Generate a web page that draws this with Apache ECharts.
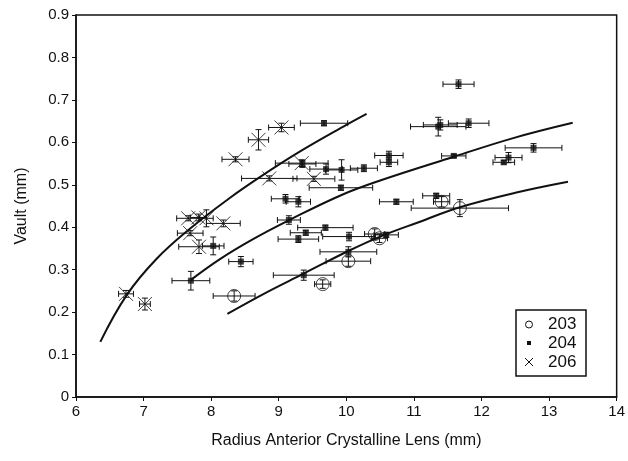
<!DOCTYPE html>
<html>
<head>
<meta charset="utf-8">
<script src="https://cdn.jsdelivr.net/npm/echarts@6/dist/echarts.min.js"></script>
<style>
  html, body { margin: 0; padding: 0; background: #fff; }
  #chart { width: 628px; height: 461px; }
</style>
</head>
<body>
<div id="chart"></div>
<script>
// group 203 (open circles)
const s203X = [8.34, 9.65, 10.03, 10.42, 10.49, 11.41, 11.68];
const s203Y = [0.238, 0.266, 0.320, 0.384, 0.374, 0.460, 0.445];
const s203Xerr = [0.31, 0.12, 0.33, 0.15, 0.12, 0.12, 0.72];
const s203Yerr = [0.012, 0.010, 0.012, 0.012, 0.010, 0.012, 0.020];

// group 204 (small filled squares)
const s204X = [7.70, 8.03, 8.44, 9.10, 9.29, 9.15, 9.40, 9.29, 9.69, 9.37, 9.92, 10.04, 10.03,
  9.67, 9.70, 9.93, 10.26, 11.66, 11.36, 11.39, 11.81, 10.63, 10.63, 11.59, 12.77, 12.40,
  12.33, 11.33, 10.74, 10.59, 9.35];
const s204Y = [0.274, 0.356, 0.319, 0.467, 0.460, 0.417, 0.387, 0.372, 0.399, 0.287, 0.493, 0.378, 0.342,
  0.645, 0.537, 0.535, 0.539, 0.737, 0.637, 0.641, 0.645, 0.569, 0.553, 0.568, 0.587, 0.564,
  0.553, 0.474, 0.460, 0.382, 0.549];
const s204Xerr = [0.28, 0.16, 0.18, 0.21, 0.18, 0.17, 0.23, 0.30, 0.41, 0.45, 0.47, 0.39, 0.42,
  0.35, 0.24, 0.24, 0.20, 0.23, 0.41, 0.25, 0.30, 0.21, 0.13, 0.18, 0.42, 0.20,
  0.16, 0.20, 0.25, 0.18, 0.20];
const s204Yerr = [0.022, 0.021, 0.012, 0.010, 0.012, 0.010, 0.006, 0.008, 0.006, 0.012, 0.006, 0.010, 0.012,
  0.006, 0.012, 0.024, 0.008, 0.010, 0.022, 0.012, 0.010, 0.010, 0.010, 0.004, 0.010, 0.012,
  0.004, 0.006, 0.006, 0.006, 0.008];

// group 206 (crosses)
const s206X = [6.74, 7.02, 7.66, 7.81, 7.93, 8.18, 7.69, 7.82, 8.36, 8.70, 9.04, 9.34, 8.86, 9.52];
const s206Y = [0.243, 0.219, 0.421, 0.423, 0.421, 0.409, 0.386, 0.354, 0.560, 0.606, 0.635, 0.551, 0.515, 0.514];
const s206Xerr = [0.11, 0.08, 0.17, 0.12, 0.10, 0.25, 0.19, 0.30, 0.20, 0.15, 0.19, 0.39, 0.41, 0.31];
const s206Yerr = [0.008, 0.014, 0.006, 0.008, 0.020, 0.008, 0.006, 0.016, 0.006, 0.024, 0.010, 0.008, 0.006, 0.006];

// fitted curves
const fit206X = [6.36, 6.75, 7.19, 7.69, 8.25, 8.72, 9.31, 10.00, 10.30];
const fit206Y = [0.130, 0.240, 0.325, 0.397, 0.466, 0.518, 0.578, 0.641, 0.667];
const fit204X = [7.70, 8.13, 8.62, 9.17, 9.93, 10.50, 11.59, 12.47, 13.35];
const fit204Y = [0.276, 0.325, 0.372, 0.418, 0.476, 0.510, 0.566, 0.610, 0.646];
const fit203X = [8.24, 8.80, 9.36, 10.03, 10.50, 11.09, 11.68, 12.50, 13.28];
const fit203Y = [0.196, 0.245, 0.290, 0.344, 0.378, 0.413, 0.447, 0.481, 0.507];

const xTicks = ['6', '7', '8', '9', '10', '11', '12', '13', '14'];

const pts = (xs, ys) => xs.map((x, i) => [x, ys[i]]);
const errs = (xs, ys, xe, ye) => xs.map((x, i) => [x, ys[i], xe[i], ye[i]]);

const ink = '#111';
const font = 'Liberation Sans, Arial, sans-serif';

function renderErr(params, api) {
  const x = api.value(0), y = api.value(1), xe = api.value(2), ye = api.value(3);
  const l = api.coord([x - xe, y]), r = api.coord([x + xe, y]);
  const b = api.coord([x, y - ye]), t = api.coord([x, y + ye]);
  const c = 3;
  const st = { stroke: ink, lineWidth: 1 };
  const ln = (x1, y1, x2, y2) => ({ type: 'line', shape: { x1, y1, x2, y2 }, style: st });
  return {
    type: 'group',
    children: [
      ln(l[0], l[1], r[0], r[1]),
      ln(l[0], l[1] - c, l[0], l[1] + c),
      ln(r[0], r[1] - c, r[0], r[1] + c),
      ln(b[0], b[1], t[0], t[1]),
      ln(b[0] - c, b[1], b[0] + c, b[1]),
      ln(t[0] - c, t[1], t[0] + c, t[1])
    ]
  };
}

const chart = echarts.init(document.getElementById('chart'));

const curve = (name, xs, ys) => ({
  name, type: 'line', data: pts(xs, ys), smooth: 0.4,
  showSymbol: false, symbol: 'none',
  lineStyle: { color: ink, width: 2 }, z: 3, silent: true
});
const errSeries = (xs, ys, xe, ye) => ({
  type: 'custom', renderItem: renderErr, data: errs(xs, ys, xe, ye), z: 4, silent: true
});

chart.setOption({
  animation: false,
  grid: { left: 76, right: 11, top: 15, bottom: 64, show: true, borderColor: ink, borderWidth: 1.5 },
  xAxis: {
    type: 'value', min: 6, max: 14, interval: 1,
    name: 'Radius Anterior Crystalline Lens (mm)', nameLocation: 'middle', nameGap: 36,
    nameTextStyle: { color: ink, fontSize: 16, fontFamily: font },
    axisLine: { lineStyle: { color: ink, width: 1.5 } },
    axisTick: { show: true, length: 4, lineStyle: { color: ink } },
    axisLabel: { color: ink, fontSize: 15, fontFamily: font, margin: 7,
      formatter: v => xTicks[Math.round(v) - 6] },
    splitLine: { show: false }
  },
  yAxis: {
    type: 'value', min: 0, max: 0.9, interval: 0.1,
    name: 'Vault (mm)', nameLocation: 'middle', nameGap: 46,
    nameTextStyle: { color: ink, fontSize: 16, fontFamily: font },
    axisLine: { lineStyle: { color: ink, width: 1.5 } },
    axisTick: { show: true, length: 4, lineStyle: { color: ink } },
    axisLabel: { color: ink, fontSize: 15, fontFamily: font, margin: 7,
      formatter: v => (Math.round(v * 10) / 10).toString() },
    splitLine: { show: false }
  },
  series: [
    curve('fit206', fit206X, fit206Y),
    curve('fit204', fit204X, fit204Y),
    curve('fit203', fit203X, fit203Y),
    {
      name: '203', type: 'scatter', data: pts(s203X, s203Y), symbol: 'circle', symbolSize: 13,
      itemStyle: { color: 'rgba(255,255,255,0)', borderColor: ink, borderWidth: 1 }, z: 5
    },
    {
      name: '204', type: 'scatter', data: pts(s204X, s204Y), symbol: 'rect', symbolSize: 6,
      itemStyle: { color: ink }, z: 5
    },
    {
      name: '206', type: 'scatter', data: pts(s206X, s206Y),
      symbol: 'path://M0,0L10,10M10,0L0,10', symbolSize: 14,
      itemStyle: { color: 'none', borderColor: ink, borderWidth: 1 }, z: 5
    },
    errSeries(s203X, s203Y, s203Xerr, s203Yerr),
    errSeries(s204X, s204Y, s204Xerr, s204Yerr),
    errSeries(s206X, s206Y, s206Xerr, s206Yerr)
  ],
  graphic: [
    { type: 'rect', shape: { x: 516, y: 310, width: 70, height: 66 },
      style: { fill: '#fff', stroke: ink, lineWidth: 1.5 }, z: 10 },
    { type: 'circle', shape: { cx: 529, cy: 324.5, r: 3.5 },
      style: { fill: 'none', stroke: ink, lineWidth: 1 }, z: 11 },
    { type: 'rect', shape: { x: 527, y: 341, width: 4, height: 4 },
      style: { fill: ink }, z: 11 },
    { type: 'polyline', shape: { points: [[525, 358], [533, 366]] }, style: { stroke: ink, lineWidth: 1 }, z: 11 },
    { type: 'polyline', shape: { points: [[533, 358], [525, 366]] }, style: { stroke: ink, lineWidth: 1 }, z: 11 },
    { type: 'text', x: 548, y: 324.5, style: { text: '203', fill: ink, font: '17px ' + font, verticalAlign: 'middle' }, z: 11 },
    { type: 'text', x: 548, y: 343, style: { text: '204', fill: ink, font: '17px ' + font, verticalAlign: 'middle' }, z: 11 },
    { type: 'text', x: 548, y: 362, style: { text: '206', fill: ink, font: '17px ' + font, verticalAlign: 'middle' }, z: 11 }
  ]
});
</script>
</body>
</html>
